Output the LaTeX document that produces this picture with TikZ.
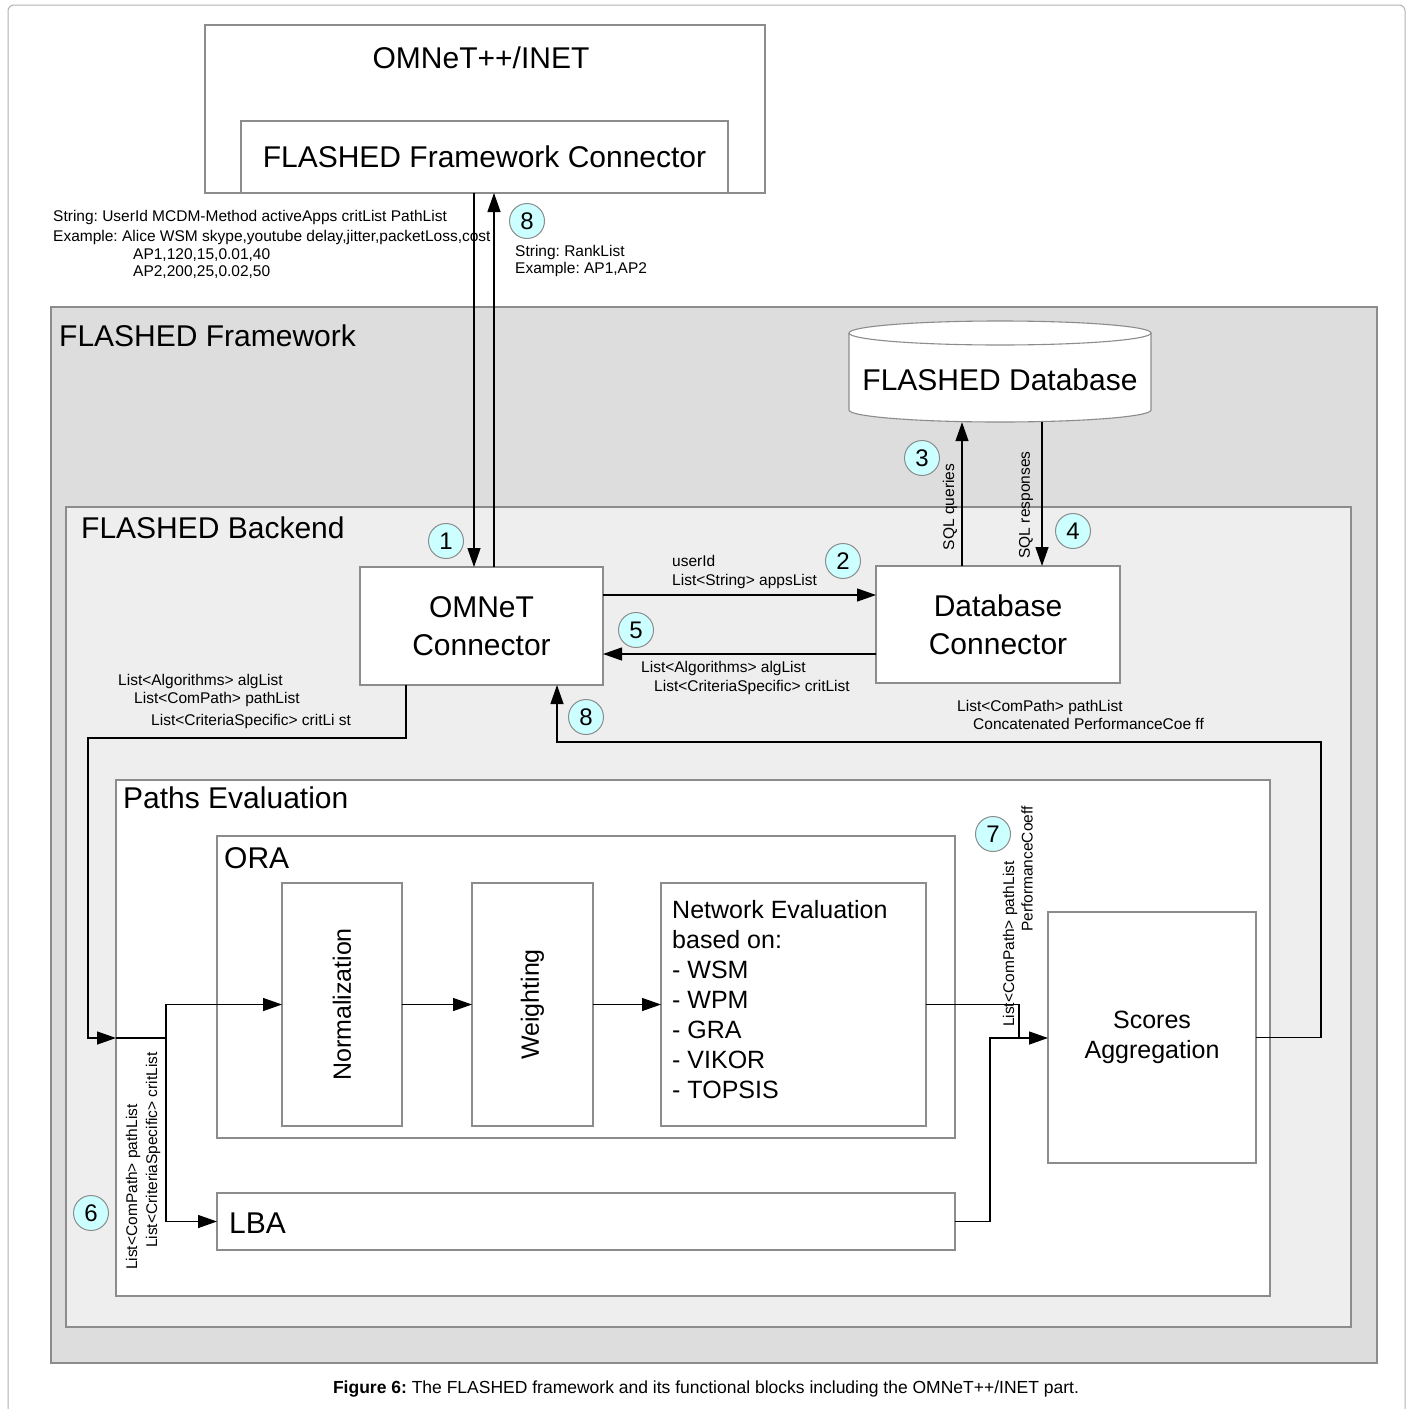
\documentclass[tikz,border=0pt]{standalone}
\usepackage{fontspec}
\setmainfont{Liberation Sans}
\usepackage{graphicx}
\usetikzlibrary{arrows.meta}
\definecolor{circfill}{RGB}{204,255,255}
\definecolor{fwfill}{RGB}{221,221,221}
\definecolor{befill}{RGB}{238,238,238}
\definecolor{edge}{RGB}{140,140,140}
\newcommand\fbig{\fontsize{30}{38}\selectfont}
\newcommand\fmid{\fontsize{25}{30}\selectfont}
\newcommand\fsml{\fontsize{15.5}{18.5}\selectfont}
\frenchspacing
\begin{document}
\begin{tikzpicture}[x=1pt,y=-1pt,
  box/.style={draw=edge, line width=1.1pt, fill=white, inner sep=0pt, outer sep=0pt, align=center},
  conn/.style={line width=1.3pt, black},
  arr/.style={conn, -{Triangle[length=19pt,width=13pt]}},
  num/.style={circle, draw=edge, line width=1pt, fill=circfill, minimum size=35pt, inner sep=0pt, font=\fontsize{24}{24}\selectfont},
  lbl/.style={inner sep=0pt, font=\fsml, anchor=base west},
  rlbl/.style={inner sep=0pt, font=\fsml, rotate=90, anchor=west},
  title/.style={inner sep=0pt, font=\fbig, anchor=base west}]

\useasboundingbox (0,0) rectangle (1413,1408);
\fill[white] (0,0) rectangle (1413,1408);
\draw[black!30, line width=1pt, rounded corners=6pt] (8,1430) -- (8,5) -- (1405,5) -- (1405,1430);

% OMNeT++/INET part
\node[box, minimum width=560pt, minimum height=168pt] (omnet) at (485,109) {};
\node[inner sep=0pt, font=\fbig, anchor=base] (omnettitle) at (481,68) {OMNeT++/INET};
\node[box, minimum width=487pt, minimum height=72pt, font=\fbig] (fconn) at (484.5,157) {FLASHED Framework Connector};

% FLASHED Framework
\node[box, fill=fwfill, minimum width=1326pt, minimum height=1056pt] (fw) at (714,835) {};
\node[title] (fwtitle) at (59,346) {FLASHED Framework};

% database cylinder
\fill[white] (849,333) -- (849,410) arc[start angle=180,end angle=0,x radius=151,y radius=12] -- (1151,333) arc[start angle=0,end angle=-180,x radius=151,y radius=12] -- cycle;
\draw[edge, line width=1.1pt] (849,333) -- (849,410) arc[start angle=180,end angle=0,x radius=151,y radius=12] -- (1151,333);
\draw[edge, line width=1.1pt] (1000,333) ellipse[x radius=151, y radius=12];
\node[inner sep=0pt, minimum width=302pt, minimum height=84pt, font=\fbig] (db) at (1000,380) {FLASHED Database};

% FLASHED Backend
\node[box, fill=befill, minimum width=1285pt, minimum height=820pt] (be) at (708.5,917) {};
\node[title] (betitle) at (81,538) {FLASHED Backend};

\node[box, minimum width=243pt, minimum height=118pt, font=\fbig] (omc) at (481.5,626) {OMNeT\\Connector};
\node[box, minimum width=244pt, minimum height=117pt, font=\fbig] (dbc) at (998,624.5) {Database\\Connector};

% Paths evaluation
\node[box, minimum width=1154pt, minimum height=516pt] (pe) at (693,1038) {};
\node[title] (petitle) at (123,808) {Paths Evaluation};
\node[box, minimum width=738pt, minimum height=302pt] (ora) at (586,987) {};
\node[title] (oratitle) at (224,868) {ORA};
\node[box, minimum width=120pt, minimum height=243pt, font=\fmid] (norm) at (342,1004.5) {\rotatebox{90}{Normalization}};
\node[box, minimum width=121pt, minimum height=243pt, font=\fmid] (wgt) at (532.5,1004.5) {\rotatebox{90}{Weighting}};
\node[box, minimum width=265pt, minimum height=243pt] (neval) at (793.5,1004.5) {};
\node[inner sep=0pt, font=\fmid, align=left, anchor=north west] (nevaltext) at (672,900) {Network Evaluation\\based on:\\- WSM\\- WPM\\- GRA\\- VIKOR\\- TOPSIS};
\node[box, minimum width=738pt, minimum height=57pt] (lba) at (586,1221.5) {};
\node[title] (lbatitle) at (229,1233) {LBA};
\node[box, minimum width=208pt, minimum height=251pt, font=\fmid] (sc) at (1152,1037.5) {Scores\\Aggregation};

% connectors
\draw[arr] (fconn.south -| 474,0) -- (omc.north -| 474,0);
\draw[arr] (omc.north -| 494,0) -- (fconn.south -| 494,0);
\draw[arr] (omc.east |- 0,595) -- (dbc.west |- 0,595);
\draw[arr] (dbc.west |- 0,654) -- (omc.east |- 0,654);
\draw[arr] (dbc.north -| 962,0) -- (db.south -| 962,0);
\draw[arr] (db.south -| 1042,0) -- (dbc.north -| 1042,0);
\draw[arr] (omc.south -| 406,0) |- (88,738) |- (pe.west);
\coordinate (split) at (166,1038);
\draw[conn] (pe.west) -- (split);
\draw[arr] (split) |- (norm.west);
\draw[arr] (split) |- (lba.west);
\draw[arr] (norm.east) -- (wgt.west);
\draw[arr] (wgt.east) -- (neval.west);
\coordinate (merge) at (1019,1038);
\draw[arr] (neval.east) -| (merge) -- (merge -| sc.west);
\draw[conn] (lba.east) -| (990,1038) -- (merge);
\draw[arr] (sc.east) -| (1321,742) -| (omc.south -| 557,0);

% step numbers
\node[num] (n8a) at (527,221) {8};
\node[num] (n1) at (446,541) {1};
\node[num] (n2) at (843,561) {2};
\node[num] (n3) at (922,458) {3};
\node[num] (n4) at (1073,531) {4};
\node[num] (n5) at (636,630) {5};
\node[num] (n8b) at (586,717) {8};
\node[num] (n7) at (993,834) {7};
\node[num] (n6) at (91,1213) {6};

% labels
\node[lbl] (t1) at (53,221) {String: UserId MCDM-Method activeApps critList PathList};
\node[lbl] (t2) at (53,241) {Example: Alice WSM skype,youtube delay,jitter,packetLoss,cost};
\node[lbl] (t3) at (133,259) {AP1,120,15,0.01,40};
\node[lbl] (t4) at (133,276) {AP2,200,25,0.02,50};
\node[lbl] (t5) at (515,256) {String: RankList};
\node[lbl] (t6) at (515,273) {Example: AP1,AP2};
\node[lbl] (t7) at (672,566) {userId};
\node[lbl] (t8) at (672,585) {List<String> appsList};
\node[lbl] (t9) at (641,672) {List<Algorithms> algList};
\node[lbl] (t10) at (654,691) {List<CriteriaSpecific> critList};
\node[lbl] (t11) at (118,685) {List<Algorithms> algList};
\node[lbl] (t12) at (134,703) {List<ComPath> pathList};
\node[lbl] (t13) at (151,725) {List<CriteriaSpecific> critLi st};
\node[lbl] (t14) at (957,711) {List<ComPath> pathList};
\node[lbl] (t15) at (973,729) {Concatenated PerformanceCoe ff};
\node[rlbl, anchor=center] (t16) at (950,507) {SQL queries};
\node[rlbl, anchor=center] (t17) at (1026,505) {SQL responses};
\node[rlbl] (t18) at (133,1270) {List<ComPath> pathList};
\node[rlbl] (t19) at (153,1248) {List<CriteriaSpecific> critList};
\node[rlbl] (t20) at (1010,1027) {List<ComPath> pathList};
\node[rlbl] (t21) at (1027,932) {PerformanceCoeff};

% caption
\node[inner sep=0pt, font=\fontsize{17.5}{20}\selectfont, anchor=base] (cap) at (706,1393) {\textbf{Figure 6:} The FLASHED framework and its functional blocks including the OMNeT++/INET part.};
\end{tikzpicture}
\end{document}
